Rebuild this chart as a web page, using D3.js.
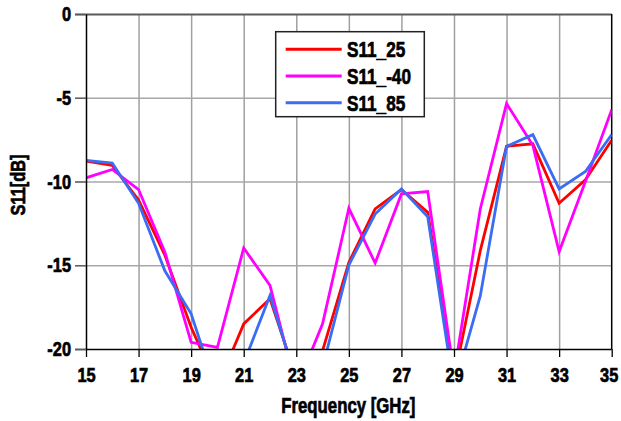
<!DOCTYPE html>
<html>
<head>
<meta charset="utf-8">
<script src="https://cdn.jsdelivr.net/npm/d3@7/dist/d3.min.js"></script>
<style>
  html, body { margin: 0; padding: 0; background: #fff; }
  svg { display: block; }
  text { font-family: "Liberation Sans", Arial, sans-serif; font-weight: bold; fill: #000; stroke: #000; stroke-width: 0.7px; }
</style>
</head>
<body>
<svg id="chart" width="621" height="421"></svg>
<script>
// ---- data ----
const freqs = [15,16,17,18,19,20,21,22,23,24,25,26,27,28,29,30,31,32,33,34,35];
const s11_25  = [-8.78,-9.04,-11.1,-14.4,-18.7,-22.25,-18.5,-17.0,-21.7,-20.1,-14.83,-11.64,-10.48,-11.84,-21.8,-14.13,-7.9,-7.75,-11.3,-9.9,-7.54];
const s11_m40 = [-9.78,-9.28,-10.48,-14.2,-19.6,-19.9,-13.97,-16.2,-22.35,-18.5,-11.6,-14.87,-10.74,-10.6,-21.5,-11.64,-5.35,-7.84,-14.19,-10.0,-5.71];
const s11_85  = [-8.74,-8.9,-11.3,-15.33,-17.9,-22.7,-20.85,-16.8,-21.9,-21.1,-14.99,-11.94,-10.44,-12.1,-22.4,-16.83,-7.9,-7.2,-10.44,-9.4,-7.2];
const seriesNames = ["S11_25", "S11_-40", "S11_85"];
const seriesColors = ["#ff0000", "#ff00ff", "#3a6cf4"];
const xTicks = [15,17,19,21,23,25,27,29,31,33,35];
const yTicks = [0,-5,-10,-15,-20];
const xTitle = "Frequency [GHz]";
const yTitle = "S11[dB]";

const seriesValues = [s11_25, s11_m40, s11_85];

// ---- layout ----
const svg = d3.select("#chart");
const L = 86, R = 611.7, T = 14, B = 349;
const x = d3.scaleLinear().domain([15, 35]).range([L, R]);
const y = d3.scaleLinear().domain([-20, 0]).range([B, T]);
const fmt = d => String(d);

// grid (vertical)
const gx = svg.append("g").attr("transform", `translate(0,${B})`)
  .call(d3.axisBottom(x).tickValues(xTicks.slice(1, -1)).tickSize(-(B - T)).tickFormat(""));
gx.select(".domain").remove();
gx.selectAll("line").attr("stroke", "#a0a0a0").attr("stroke-width", 1.5);

// grid (horizontal) extended left as outer ticks
const gy = svg.append("g").attr("transform", `translate(${R},0)`)
  .call(d3.axisLeft(y).tickValues(yTicks.slice(1, -1)).tickSize(R - 75).tickFormat(""));
gy.select(".domain").remove();
gy.selectAll("line").attr("stroke", "#a8a8a8").attr("stroke-width", 1.5);

// top line
const gt = svg.append("g").attr("transform", `translate(${R},0)`)
  .call(d3.axisLeft(y).tickValues([0]).tickSize(R - 75).tickFormat(""));
gt.select(".domain").remove();
gt.selectAll("line").attr("stroke", "#5a5a5a").attr("stroke-width", 1.8);

// right border
svg.append("line").attr("x1", R).attr("x2", R).attr("y1", T).attr("y2", B)
  .attr("stroke", "#000").attr("stroke-width", 1.5);

// lines
svg.append("clipPath").attr("id", "plotclip")
  .append("rect").attr("x", L).attr("y", T).attr("width", R - L).attr("height", B - T);
const line = d3.line().x((d, i) => x(freqs[i])).y(d => y(d));
const gl = svg.append("g").attr("clip-path", "url(#plotclip)");
seriesValues.forEach((vals, k) => {
  gl.append("path").datum(vals).attr("d", line)
    .attr("fill", "none").attr("stroke", seriesColors[k])
    .attr("stroke-width", 2.8).attr("stroke-linejoin", "miter");
});

// axes
const ax = svg.append("g").attr("transform", `translate(0,${B})`)
  .call(d3.axisBottom(x).tickValues(xTicks).tickFormat(fmt).tickSize(8).tickSizeOuter(0).tickPadding(10));
ax.select(".domain").attr("stroke", "#000").attr("stroke-width", 1.5).attr("d", `M75,0.5H${R}`);
ax.selectAll("line").attr("stroke", "#000").attr("stroke-width", 1.3);
ax.selectAll("text").style("font-size", "21px").attr("fill", "#000");
ax.selectAll(".tick").filter(d => d === 35).select("text").attr("dx", "-3");

const ay = svg.append("g").attr("transform", `translate(${L},0)`)
  .call(d3.axisLeft(y).tickValues(yTicks).tickFormat(fmt).tickSize(11).tickSizeOuter(0).tickPadding(4));
ay.select(".domain").attr("stroke", "#000").attr("stroke-width", 1.5);
ay.selectAll("line").attr("stroke", "#5a5a5a").attr("stroke-width", 1.3);
ay.selectAll("text").style("font-size", "21px").attr("fill", "#000");

// titles
svg.append("text").attr("x", (L + R) / 2 - 0.5).attr("y", 413)
  .attr("text-anchor", "middle").style("font-size", "21.5px").text(xTitle);
svg.append("text").attr("transform", "translate(25,185) rotate(-90)")
  .attr("text-anchor", "middle").style("font-size", "21px").text(yTitle);

// legend
const lg = svg.append("g");
lg.append("rect").attr("x", 275.7).attr("y", 31.7).attr("width", 148.6).attr("height", 85)
  .attr("fill", "#fff").attr("stroke", "#222").attr("stroke-width", 1.5);
seriesNames.forEach((nm, k) => {
  const yy = 49.3 + k * 26.7;
  lg.append("line").attr("x1", 285.7).attr("x2", 341.7).attr("y1", yy).attr("y2", yy)
    .attr("stroke", seriesColors[k]).attr("stroke-width", 3);
  lg.append("text").attr("x", 347).attr("y", yy + 7.8).style("font-size", "22px").text(nm);
});

// condense all text horizontally (narrow bold look)
svg.selectAll("text").each(function () {
  const w = this.getComputedTextLength();
  d3.select(this).attr("textLength", (w * 0.78).toFixed(2)).attr("lengthAdjust", "spacingAndGlyphs");
});
</script>
</body>
</html>
